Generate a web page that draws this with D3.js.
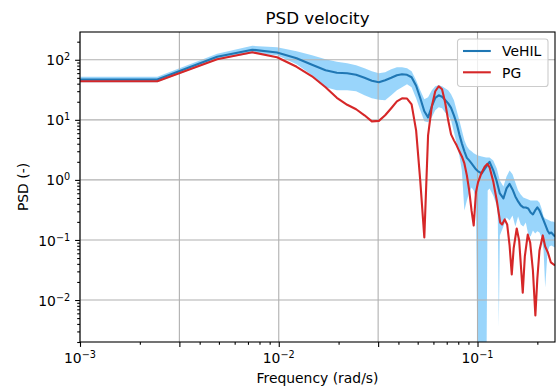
<!DOCTYPE html>
<html>
<head>
<meta charset="utf-8">
<script src="https://cdn.jsdelivr.net/npm/d3@7"></script>
<style>
    body {margin: 0; background: #fff;}
    #chart text {font-family: "DejaVu Sans", sans-serif; fill: #000;}
    .tick line {stroke: #000; stroke-width: 1.1px;}
    .grid line {stroke: #b0b0b0; stroke-width: 1.1px;}
</style>
</head>
<body>
<div id="chart"></div>
<script>

    // frequency grid (rad/s) used for the VeHIL mean and its band
    const freqV = [
        0.001, 0.00245, 0.0049, 0.00736, 0.0098, 0.0123, 0.0147, 0.0172, 0.0196, 0.0221,
        0.0245, 0.027, 0.0294, 0.0319, 0.0343, 0.0368, 0.0393, 0.0417, 0.0442, 0.0466,
        0.0491, 0.0515, 0.054, 0.0564, 0.0589, 0.0613, 0.0638, 0.0663, 0.0687, 0.0712,
        0.0736, 0.0761, 0.0785, 0.081, 0.0834, 0.0859, 0.0884, 0.0908, 0.0933, 0.0957,
        0.0982, 0.1006, 0.105, 0.1105, 0.1125, 0.115, 0.12, 0.125, 0.1265, 0.128,
        0.1295, 0.135, 0.14, 0.145, 0.15, 0.155, 0.16, 0.165, 0.17, 0.175,
        0.18, 0.185, 0.19, 0.195, 0.2, 0.205, 0.21, 0.215, 0.219, 0.225,
        0.23, 0.235, 0.24, 0.2454];

    const vehil = [
        46.8, 46.8, 112, 147, 132, 106, 82.5, 66.8, 60.7, 59.6,
        56.2, 50.1, 44.7, 42.2, 45.5, 50.1, 55.2, 57.3, 56.2, 51.1,
        36.9, 23.1, 13.9, 11.0, 16.8, 23.3, 25.6, 24.2, 21.5, 18.8,
        15.8, 11.9, 8.74, 5.73, 4.06, 2.99, 2.33, 2.11, 1.88, 1.68,
        1.50, 1.39, 1.28, 1.65, 1.81, 2.0, 1.44, 0.944, 0.81, 0.695,
        0.596, 0.491, 0.722, 0.858, 0.695, 0.531, 0.438, 0.376, 0.348, 0.348,
        0.335, 0.287, 0.266, 0.31, 0.348, 0.31, 0.256, 0.211, 0.181, 0.144,
        0.128, 0.133, 0.123, 0.114];

    const vehilLow = [
        42.2, 42.2, 100, 128, 119, 84.1, 55.2, 34.8, 31.0, 31.0,
        29.9, 25.6, 22.8, 21.5, 21.1, 25.6, 31.0, 34.8, 39.0, 34.8,
        22.8, 14.4, 9.44, 9.08, 11.0, 14.4, 16.2, 15.6, 13.3, 11.9,
        9.81, 6.19, 4.06, 2.56, 1.44, 0.31, 0.455, 0.619, 0.75, 0.668,
        0.491, 0.0001, 0.0001, 0.0001, 0.668, 0.722, 0.551, 0.376, 0.256, 0.0036,
        0.119, 0.168, 0.237, 0.211, 0.256, 0.168, 0.246, 0.181, 0.168, 0.196,
        0.123, 0.114, 0.144, 0.128, 0.139, 0.133, 0.11, 0.0668, 0.0162, 0.0619,
        0.0779, 0.081, 0.0779, 0.075];

    const vehilHigh = [
        52.1, 52.1, 126, 171, 162, 139, 119, 102, 92.6, 87.4,
        81.0, 72.2, 64.3, 59.6, 61.9, 69.4, 75.0, 75.0, 72.2, 64.3,
        45.5, 31.0, 22.0, 23.7, 31.0, 36.2, 37.6, 36.2, 33.5, 31.0,
        26.6, 21.1, 14.4, 9.81, 6.68, 4.55, 3.62, 3.22, 2.99, 2.77,
        2.66, 2.56, 2.46, 2.37, 2.37, 2.37, 2.11, 1.55, 1.33, 1.14,
        0.98, 0.779, 1.14, 1.44, 1.24, 0.909, 0.668, 0.573, 0.511, 0.491,
        0.473, 0.455, 0.455, 0.455, 0.455, 0.422, 0.335, 0.246, 0.228, 0.22,
        0.211, 0.203, 0.203, 0.196];

    // frequency grid for PG
    const freqPG = [
        0.001, 0.00245, 0.0049, 0.00736, 0.0098, 0.0123, 0.0147, 0.0172, 0.0196, 0.0221,
        0.0245, 0.027, 0.0294, 0.0319, 0.0343, 0.0368, 0.0393, 0.0417, 0.0442, 0.0466,
        0.0491, 0.0515, 0.054, 0.0564, 0.0589, 0.0613, 0.0638, 0.0663, 0.0687, 0.0712,
        0.0736, 0.0761, 0.0785, 0.081, 0.0834, 0.0859, 0.0884, 0.0908, 0.0933, 0.0957,
        0.0982, 0.1006, 0.105, 0.109, 0.112, 0.115, 0.12, 0.125, 0.13, 0.133,
        0.137, 0.141, 0.145, 0.1487, 0.152, 0.1575, 0.162, 0.1689, 0.173, 0.179,
        0.184, 0.19, 0.1955, 0.2, 0.205, 0.213, 0.219, 0.226, 0.234, 0.2454];

    const pg = [
        43.8, 43.8, 102, 133, 110, 76.4, 53.1, 34.8, 23.3, 17.8,
        15.0, 11.9, 9.44, 9.62, 11.9, 15.6, 20.3, 22.8, 22.6, 18.1,
        6.68, 0.981, 0.11, 5.52, 16.8, 29.9, 36.2, 32.2, 19.6, 9.81,
        5.73, 4.55, 3.76, 2.99, 2.46, 1.88, 1.19, 0.668, 0.31, 0.174,
        0.619, 0.909, 1.33, 1.68, 1.85, 1.62, 0.944, 0.455, 0.196, 0.181,
        0.22, 0.181, 0.081, 0.0266, 0.0722, 0.155, 0.0981, 0.0133, 0.0531, 0.123,
        0.0908, 0.031, 0.00551, 0.0228, 0.0668, 0.119, 0.0779, 0.0619, 0.0422, 0.0376];

    const seriesNames = ["VeHIL", "PG"];
    const seriesColors = ["#1f77b4", "#d62728"];

    const xDomain = [0.001, 0.2454];
    const yDomain = [0.002, 290];
    const xLabelExps = [-3, -2, -1];
    const yLabelExps = [-2, -1, 0, 1, 2];
    const xGridExps = [-3, -2.5, -2, -1.5, -1];

    let margin = {top: 32, right: 3, bottom: 48, left: 80},
        width = 558 - margin.left - margin.right,
        height = 390 - margin.top - margin.bottom;

    let x = d3.scaleLog().domain(xDomain).range([0, width]);
    let y = d3.scaleLog().domain(yDomain).range([height, 0]);

    // minor ticks 2..9 per decade (x skips 3, it sits on the half-decade mark)
    function minors(domain, subs) {
        let out = [];
        for (let e = -4; e <= 3; e++) {
            subs.forEach(s => {
                let v = s * Math.pow(10, e);
                if (v >= domain[0] && v <= domain[1]) out.push(v);
            });
        }
        return out;
    }
    let xMinor = minors(xDomain, [2, 4, 5, 6, 7, 8, 9]);
    let yMinor = minors(yDomain, [2, 3, 4, 5, 6, 7, 8, 9]);
    let xMajor = xGridExps.map(e => Math.pow(10, e));
    let yMajor = yLabelExps.map(e => Math.pow(10, e));

    let svg = d3.select("#chart").append("svg")
        .attr("width", 558)
        .attr("height", 390);

    svg.append("defs").append("clipPath").attr("id", "plot-clip")
        .append("rect").attr("width", width).attr("height", height);

    let g = svg.append("g")
        .attr("transform", "translate(" + margin.left + "," + margin.top + ")");

    // band
    let band = d3.area()
        .x((d, i) => x(freqV[i]))
        .y0((d, i) => y(vehilLow[i]))
        .y1((d, i) => y(vehilHigh[i]));

    g.append("path")
        .datum(vehil)
        .attr("clip-path", "url(#plot-clip)")
        .attr("fill", "#87cefa")
        .attr("fill-opacity", 0.85)
        .attr("d", band);

    // grid on top of the band, under the lines
    let grid = g.append("g").attr("class", "grid");
    grid.selectAll(".gx").data(xMajor).enter().append("line")
        .attr("x1", d => x(d)).attr("x2", d => x(d))
        .attr("y1", 0).attr("y2", height);
    grid.selectAll(".gy").data(yMajor).enter().append("line")
        .attr("y1", d => y(d)).attr("y2", d => y(d))
        .attr("x1", 0).attr("x2", width);

    let line = d3.line()
        .x(d => x(d[0]))
        .y(d => y(d[1]));

    g.append("path")
        .datum(d3.zip(freqV, vehil))
        .attr("clip-path", "url(#plot-clip)")
        .attr("fill", "none")
        .attr("stroke", seriesColors[0])
        .attr("stroke-width", 2.1)
        .attr("stroke-linejoin", "round")
        .attr("d", line);

    g.append("path")
        .datum(d3.zip(freqPG, pg))
        .attr("clip-path", "url(#plot-clip)")
        .attr("fill", "none")
        .attr("stroke", seriesColors[1])
        .attr("stroke-width", 2.1)
        .attr("stroke-linejoin", "round")
        .attr("d", line);

    // ticks
    function tickAxis(axis, values, size) {
        return axis.tickValues(values).tickSize(size).tickSizeOuter(0).tickFormat("");
    }
    g.append("g").attr("transform", "translate(0," + height + ")")
        .call(tickAxis(d3.axisBottom(x), xMajor, 4.9));
    g.append("g").attr("transform", "translate(0," + height + ")")
        .call(tickAxis(d3.axisBottom(x), xMinor, 2.8));
    g.append("g").call(tickAxis(d3.axisLeft(y), yMajor, 4.9));
    g.append("g").call(tickAxis(d3.axisLeft(y), yMinor, 2.8));
    g.selectAll(".domain").remove();

    // spines
    g.append("rect")
        .attr("width", width).attr("height", height)
        .attr("fill", "none").attr("stroke", "#000").attr("stroke-width", 1.1);

    function powerLabel(sel, e) {
        sel.append("tspan").text("10");
        sel.append("tspan").attr("dy", -5).style("font-size", "9.7px")
            .text(e < 0 ? "\u2212" + (-e) : String(e));
    }

    g.selectAll(".xlab").data(xLabelExps).enter().append("text")
        .attr("x", d => x(Math.pow(10, d)))
        .attr("y", height + 20.8)
        .attr("text-anchor", "middle")
        .style("font-size", "13.9px")
        .each(function(d) { powerLabel(d3.select(this), d); });

    g.selectAll(".ylab").data(yLabelExps).enter().append("text")
        .attr("x", -9.8)
        .attr("y", d => y(Math.pow(10, d)) + 5.6)
        .attr("text-anchor", "end")
        .style("font-size", "13.9px")
        .each(function(d) { powerLabel(d3.select(this), d); });

    // titles
    svg.append("text")
        .attr("x", margin.left + width / 2).attr("y", 23.5)
        .attr("text-anchor", "middle").style("font-size", "16.7px")
        .text("PSD velocity");

    svg.append("text")
        .attr("x", margin.left + width / 2).attr("y", 383)
        .attr("text-anchor", "middle").style("font-size", "13.9px")
        .text("Frequency (rad/s)");

    svg.append("text")
        .attr("transform", "translate(27.5," + (margin.top + height / 2) + ") rotate(-90)")
        .attr("text-anchor", "middle").style("font-size", "13.9px")
        .text("PSD (-)");

    // legend
    let legend = g.append("g")
        .attr("transform", "translate(" + (width - 97.5) + ",7)");

    legend.append("rect")
        .attr("width", 90.5).attr("height", 47.5)
        .attr("rx", 2.8).attr("ry", 2.8)
        .attr("fill", "#fff").attr("fill-opacity", 0.8)
        .attr("stroke", "#cccccc").attr("stroke-width", 1.1);

    seriesNames.forEach(function(name, i) {
        let row = legend.append("g").attr("transform", "translate(0," + (12 + i * 21.3) + ")");
        row.append("line")
            .attr("x1", 5.5).attr("x2", 33.3)
            .attr("stroke", seriesColors[i]).attr("stroke-width", 2.1);
        row.append("text")
            .attr("x", 44.5).attr("y", 5.3)
            .style("font-size", "13.9px")
            .text(name);
    });

</script>
</body>
</html>
